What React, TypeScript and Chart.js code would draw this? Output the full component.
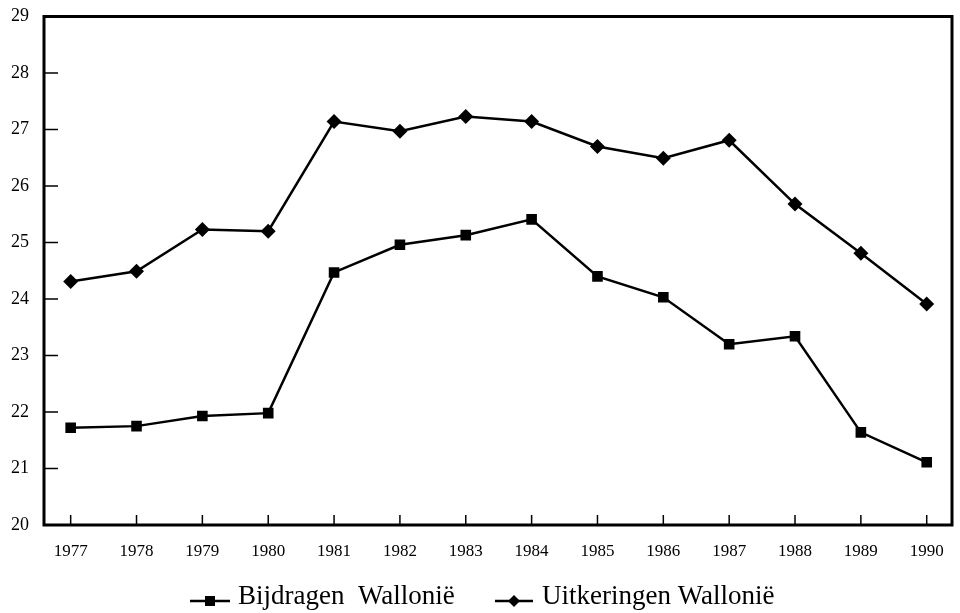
import React, { useEffect, useRef } from "react";
import { Chart, registerables } from "chart.js";

Chart.register(...registerables);

const years = [1977, 1978, 1979, 1980, 1981, 1982, 1983, 1984, 1985, 1986, 1987, 1988, 1989, 1990];
const bijdragen = [21.72, 21.75, 21.93, 21.98, 24.47, 24.96, 25.13, 25.41, 24.40, 24.03, 23.20, 23.34, 21.64, 21.11];
const uitkeringen = [24.31, 24.49, 25.23, 25.20, 27.14, 26.97, 27.23, 27.14, 26.70, 26.49, 26.81, 25.68, 24.81, 23.91];
const yTicks = [20, 21, 22, 23, 24, 25, 26, 27, 28, 29];
const seriesLabels = ["Bijdragen  Wallonië", "Uitkeringen Wallonië"];

const SERIF = "'Liberation Serif', 'Times New Roman', serif";

const framePlugin = {
  id: "frameAndTicks",
  afterDraw(chart: any) {
    const { ctx, chartArea } = chart;
    const xs = chart.scales.x;
    const ys = chart.scales.y;
    ctx.save();
    ctx.strokeStyle = "#000";
    // inner y ticks
    ctx.lineWidth = 1.5;
    yTicks.forEach((v) => {
      if (v === yTicks[0] || v === yTicks[yTicks.length - 1]) return;
      const y = ys.getPixelForValue(v);
      ctx.beginPath();
      ctx.moveTo(chartArea.left, y);
      ctx.lineTo(chartArea.left + 14, y);
      ctx.stroke();
    });
    // inner x ticks
    years.forEach((v) => {
      const x = xs.getPixelForValue(v);
      ctx.beginPath();
      ctx.moveTo(x, chartArea.bottom);
      ctx.lineTo(x, chartArea.bottom - 10);
      ctx.stroke();
    });
    // frame
    ctx.lineWidth = 3;
    ctx.strokeRect(chartArea.left, chartArea.top, chartArea.right - chartArea.left, chartArea.bottom - chartArea.top);

    // legend
    const legendY = 601;
    const items = [
      { x0: 190, x1: 230, text: 238, style: "rect" },
      { x0: 495, x1: 533, text: 542, style: "rectRot" },
    ];
    chart.data.datasets.forEach((ds: any, i: number) => {
      const it = items[i];
      ctx.lineWidth = 2.5;
      ctx.beginPath();
      ctx.moveTo(it.x0, legendY);
      ctx.lineTo(it.x1, legendY);
      ctx.stroke();
      const cx = (it.x0 + it.x1) / 2;
      ctx.fillStyle = "#000";
      ctx.beginPath();
      if (it.style === "rect") {
        ctx.rect(cx - 5, legendY - 5, 10, 10);
      } else {
        ctx.moveTo(cx - 6, legendY);
        ctx.lineTo(cx, legendY - 6);
        ctx.lineTo(cx + 6, legendY);
        ctx.lineTo(cx, legendY + 6);
        ctx.closePath();
      }
      ctx.fill();
      ctx.font = `27px ${SERIF}`;
      ctx.textBaseline = "alphabetic";
      ctx.textAlign = "left";
      ctx.fillText(ds.label, it.text, 604);
    });
    ctx.restore();
  },
};

export default function App() {
  const ref = useRef<HTMLCanvasElement | null>(null);
  useEffect(() => {
    document.body.style.margin = "0";
    const canvas = ref.current;
    if (!canvas) return;
    const chart = new Chart(canvas, {
      type: "line",
      data: {
        datasets: [
          {
            label: seriesLabels[0],
            data: years.map((y, i) => ({ x: y, y: bijdragen[i] })),
            borderColor: "#000",
            backgroundColor: "#000",
            borderWidth: 2.5,
            pointStyle: "rect",
            pointRadius: 7.5,
            pointBorderWidth: 0,
            tension: 0,
          },
          {
            label: seriesLabels[1],
            data: years.map((y, i) => ({ x: y, y: uitkeringen[i] })),
            borderColor: "#000",
            backgroundColor: "#000",
            borderWidth: 2.5,
            pointStyle: "rectRot",
            pointRadius: 7.5,
            pointBorderWidth: 0,
            tension: 0,
          },
        ],
      },
      options: {
        responsive: false,
        animation: false,
        layout: { padding: { left: 0, top: 16.5, right: 8, bottom: 43 } },
        plugins: {
          legend: { display: false },
          tooltip: { enabled: false },
        },
        scales: {
          x: {
            type: "linear",
            min: 1976.595,
            max: 1990.384,
            afterBuildTicks: (scale: any) => {
              scale.ticks = years.map((v) => ({ value: v }));
            },
            afterFit: (scale: any) => {
              scale.height = 45;
              scale.paddingLeft = 0;
              scale.paddingRight = 0;
            },
            grid: { display: false, drawTicks: false },
            border: { display: false },
            ticks: {
              autoSkip: false,
              maxRotation: 0,
              padding: 16,
              color: "#000",
              font: { family: SERIF, size: 17 },
              callback: (v: any) => String(v),
            },
          },
          y: {
            type: "linear",
            min: 20,
            max: 29,
            afterBuildTicks: (scale: any) => {
              scale.ticks = yTicks.map((v) => ({ value: v }));
            },
            afterFit: (scale: any) => {
              scale.width = 44;
              scale.paddingTop = 0;
              scale.paddingBottom = 0;
            },
            grid: { display: false, drawTicks: false },
            border: { display: false },
            ticks: {
              padding: 15,
              color: "#000",
              font: { family: SERIF, size: 18 },
              callback: (v: any) => String(v),
            },
          },
        },
      },
      plugins: [framePlugin],
    });
    return () => chart.destroy();
  }, []);
  return (
    <div style={{ width: 960, height: 613, background: "#fff" }}>
      <canvas ref={ref} width={960} height={613} style={{ display: "block" }} />
    </div>
  );
}
